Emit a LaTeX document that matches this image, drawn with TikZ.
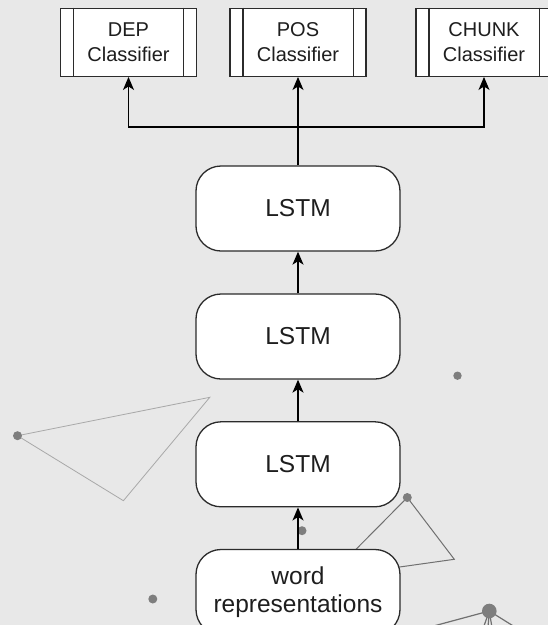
\documentclass[tikz,border=0pt]{standalone}
\usepackage{fontspec}
\setmainfont[Ligatures=NoCommon]{Liberation Sans}
\usetikzlibrary{arrows.meta}

\definecolor{bgcol}{HTML}{E8E8E8}
\definecolor{edgecol}{HTML}{2B2B2B}
\definecolor{txtcol}{HTML}{1E1E1E}
\definecolor{dotcol}{HTML}{7E7E7E}
\definecolor{faintline}{HTML}{A8A8A8}
\definecolor{midline}{HTML}{707070}

\tikzset{
  classbox/.style={draw=edgecol, line width=1.3pt, fill=white, rectangle,
    minimum width=136pt, minimum height=68pt, inner sep=0pt,
    text=txtcol, align=center, font=\fontsize{20}{25}\selectfont},
  lstmbox/.style={draw=edgecol, line width=1.3pt, fill=white, rectangle,
    rounded corners=25pt, minimum width=204pt, minimum height=85pt,
    inner sep=0pt, text=txtcol, align=center,
    font=\fontsize{24.5}{28.3}\selectfont},
  flow/.style={draw=black, line width=1.5pt},
  arr/.style={flow, -{Stealth[length=13pt, width=11pt, inset=3.5pt]}},
  sidebar/.style={draw=edgecol, line width=1.3pt},
  dot/.style={fill=dotcol, draw=none},
  faint/.style={draw=faintline, line width=0.8pt},
  mid/.style={draw=midline, line width=1pt},
}

\begin{document}
\begin{tikzpicture}[x=1pt, y=-1pt]
  \useasboundingbox (0,0) rectangle (548,625);
  \clip (0,0) rectangle (548,625);
  \fill[bgcol] (0,0) rectangle (548,625);

  % scattered background ornaments
  \draw[faint] (17.5,435.7) -- (209.8,397.3) -- (123.4,500.7) -- cycle;
  \draw[mid] (407.3,497.5) -- (454.3,559.3) -- (328.6,577) -- cycle;
  \draw[mid, line width=1.2pt] (489.3,611) -- (381.6,640);
  \draw[mid, line width=1.2pt] (489.3,611) -- (479,640);
  \draw[mid, line width=1.2pt] (489.3,611) -- (487,640);
  \draw[mid, line width=1.2pt] (489.3,611) -- (494,640);
  \draw[mid, line width=1.2pt] (489.3,611) -- (535.7,640);
  \fill[dot] (17.5,435.7) circle (4.5);
  \fill[dot] (407.3,497.5) circle (4.5);
  \fill[dot] (457.5,375.7) circle (4.2);
  \fill[dot] (302,530.7) circle (4.5);
  \fill[dot] (152.8,599) circle (4.5);
  \fill[dot] (489.3,611) circle (7.3);

  % classifier heads
  \node[classbox] (dep)   at (128.5,42.3) {DEP\\Classifier};
  \node[classbox] (pos)   at (298,42.3)   {POS\\Classifier};
  \node[classbox] (chunk) at (484,42.3)   {CHUNK\\Classifier};
  \foreach \n in {dep,pos,chunk}{
    \draw[sidebar] ([xshift=13.5pt]\n.north west) -- ([xshift=13.5pt]\n.south west);
    \draw[sidebar] ([xshift=-13.5pt]\n.north east) -- ([xshift=-13.5pt]\n.south east);
  }

  % stacked LSTM layers and input
  \node[lstmbox] (lstmA) at (298,208.5) {LSTM};
  \node[lstmbox] (lstmB) at (298,336.5) {LSTM};
  \node[lstmbox] (lstmC) at (298,464.3) {LSTM};
  \node[lstmbox] (word)  at (298,592)   {word\\representations};

  % connectors
  \coordinate (split) at (298,127);
  \draw[arr] (word) -- (lstmC);
  \draw[arr] (lstmC) -- (lstmB);
  \draw[arr] (lstmB) -- (lstmA);
  \draw[flow] (lstmA) -- (split);
  \draw[arr] (split) -- (pos);
  \draw[arr] (split) -| (dep);
  \draw[arr] (split) -| (chunk);
\end{tikzpicture}
\end{document}
